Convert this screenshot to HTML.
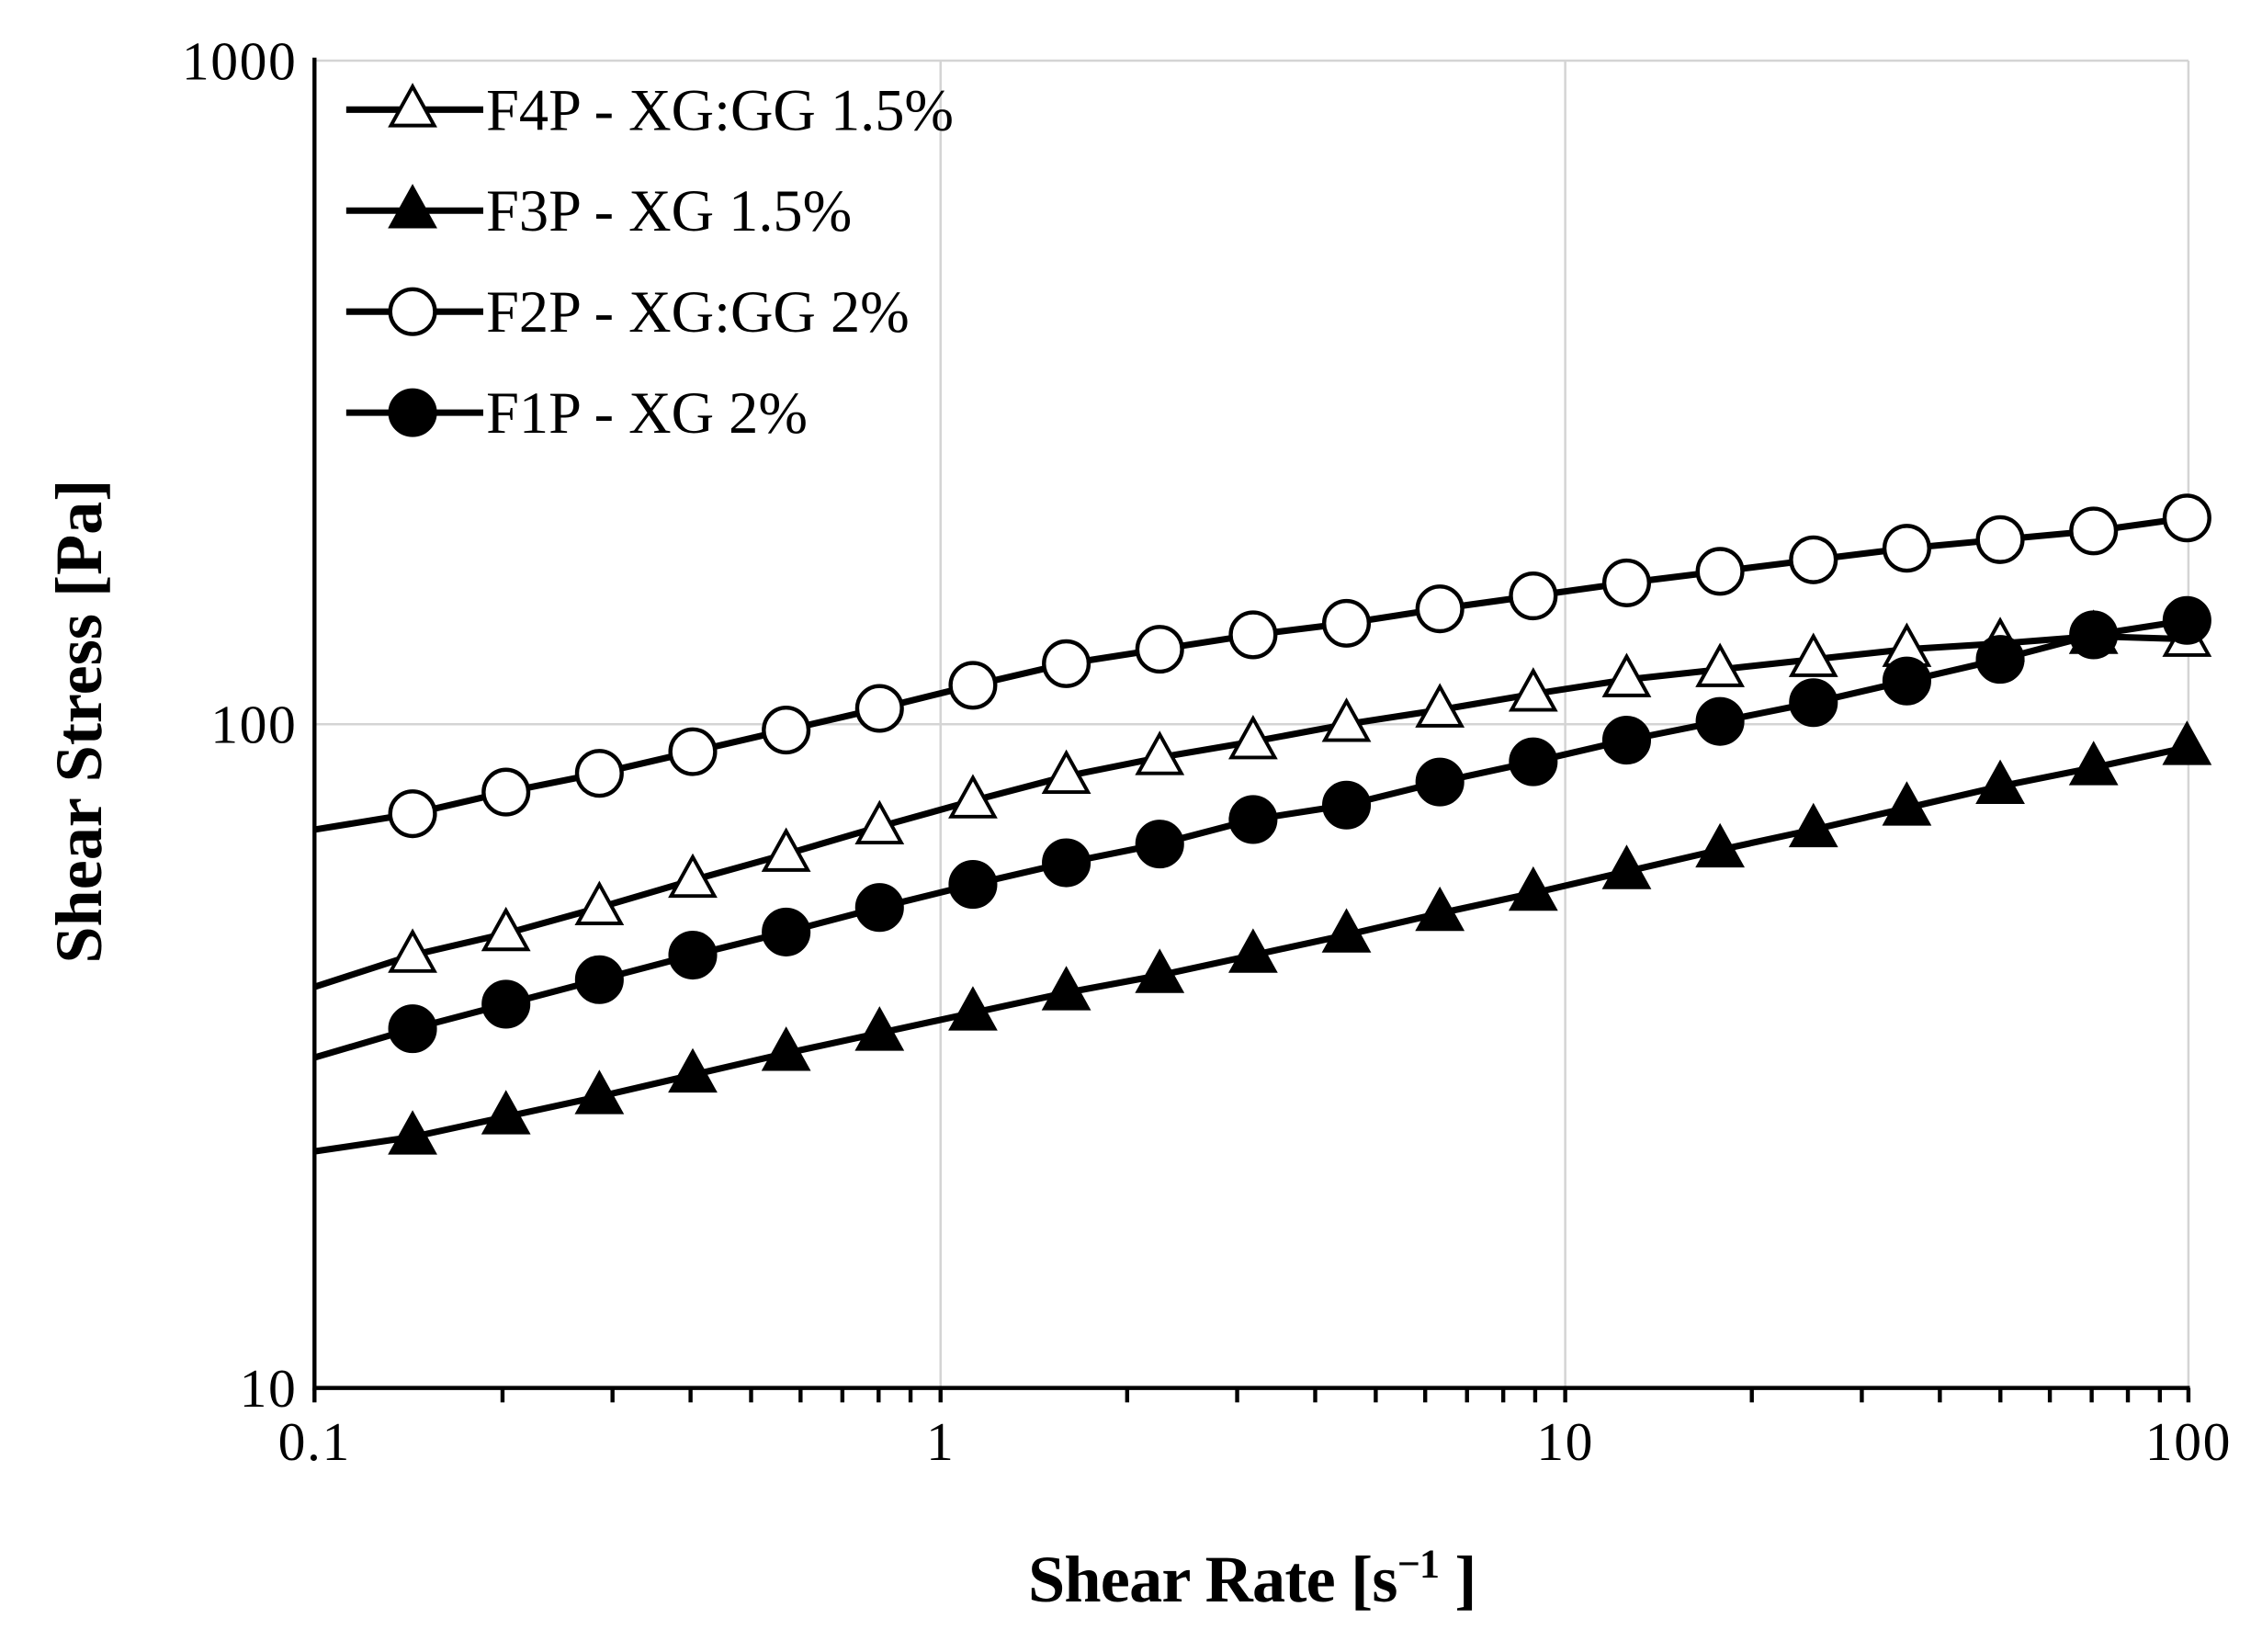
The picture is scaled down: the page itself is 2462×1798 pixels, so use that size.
<!DOCTYPE html>
<html><head><meta charset="utf-8"><style>
html,body{margin:0;padding:0;background:#fff;}
svg{display:block;}
text{font-family:"Liberation Serif",serif;fill:#000;}
</style></head><body>
<svg id="s" width="2462" height="1798" viewBox="0 0 1568 1145" preserveAspectRatio="none" xmlns="http://www.w3.org/2000/svg">
<g stroke="#d4d4d4" stroke-width="1.6">
<line x1="218" y1="42" x2="1517" y2="42"/>
<line x1="218" y1="502" x2="1517" y2="502"/>
<line x1="652" y1="42" x2="652" y2="962"/>
<line x1="1085" y1="42" x2="1085" y2="962"/>
<line x1="1517" y1="42" x2="1517" y2="962"/>
</g>
<g id="ax" stroke="#000" stroke-width="2.8" fill="none">
<line x1="218" y1="40" x2="218" y2="964"/>
<line x1="217" y1="962" x2="1518" y2="962"/>
</g>
<g font-size="38" text-anchor="end" letter-spacing="1">
<text x="206" y="55">1000</text>
<text x="206" y="515">100</text>
<text x="206" y="975">10</text>
</g>
<g font-size="38" text-anchor="middle" letter-spacing="1">
<text x="218" y="1012">0.1</text>
<text x="652" y="1012">1</text>
<text x="1085" y="1012">10</text>
<text x="1517" y="1012">100</text>
</g>
<text x="868" y="1110" font-size="46" font-weight="bold" text-anchor="middle" letter-spacing="-0.5">Shear Rate [s<tspan font-size="28" dy="-17">−1</tspan><tspan dy="17"> ]</tspan></text>
<text transform="translate(70,500) rotate(-90)" font-size="46" font-weight="bold" text-anchor="middle" letter-spacing="0">Shear Stress [Pa]</text>
<g id="series"></g>
<g id="leg" font-size="41" letter-spacing="0"></g>
</svg>
<script>
var NS="http://www.w3.org/2000/svg";
function el(p,n,a){var e=document.createElementNS(NS,n);for(var k in a)e.setAttribute(k,a[k]);p.appendChild(e);return e;}
var ax=document.getElementById('ax');
for(var d=0;d<3;d++){for(var m=2;m<=9;m++){var x=218+433*(d+Math.log10(m));el(ax,'line',{x1:x,y1:962,x2:x,y2:972});}}
[218,652,1085,1517].forEach(function(x){el(ax,'line',{x1:x,y1:962,x2:x,y2:972});});
var xs=[];for(var k=0;k<20;k++)xs.push(286+k*(1516-286)/19);
var S=[
 {m:'oc',y0:575,ys:[564,549,536,521,506,491,475,460,450,440,432,422,413,404,396,388,380,374,368,359]},
 {m:'ot',y0:684,ys:[662,647,629,610,592,573,555,538,525,514,502,492,481,471,464,457,450,446,441,443]},
 {m:'fc',y0:733,ys:[713,696,679,662,646,629,613,598,585,568,558,542,528,513,500,487,472,457,440,430]},
 {m:'ft',y0:798,ys:[788,774,760,745,730,716,702,688,676,662,648,633,619,604,589,575,560,545,532,518]}
];
var g=document.getElementById('series');
function marker(p,t,x,y){
 if(t[1]=='c'){el(p,'circle',{cx:x,cy:y,r:15.5,fill:t[0]=='f'?'#000':'#fff',stroke:'#000','stroke-width':2.8});}
 else{el(p,'polygon',{points:(x)+','+(y-16)+' '+(x-15)+','+(y+11)+' '+(x+15)+','+(y+11),fill:t[0]=='f'?'#000':'#fff',stroke:'#000','stroke-width':2.5,'stroke-linejoin':'miter'});}
}
S.forEach(function(s){
 var pts='218,'+s.y0;for(var i=0;i<20;i++)pts+=' '+xs[i]+','+s.ys[i];
 el(g,'polyline',{points:pts,fill:'none',stroke:'#000','stroke-width':4.5,'stroke-linejoin':'round'});
});
S.forEach(function(s){for(var i=0;i<20;i++)marker(g,s.m,xs[i],s.ys[i]);});
var L=document.getElementById('leg');
var lab=[['ot','F4P - XG:GG 1.5%',76],['ft','F3P - XG 1.5%',146],['oc','F2P - XG:GG 2%',216],['fc','F1P - XG 2%',286]];
lab.forEach(function(l){
 el(L,'line',{x1:240,y1:l[2],x2:335,y2:l[2],stroke:'#000','stroke-width':4.5});
 marker(L,l[0],286,l[2]);
 var t=el(L,'text',{x:337,y:l[2]+14});t.textContent=l[1];
});
</script>
</body></html>
